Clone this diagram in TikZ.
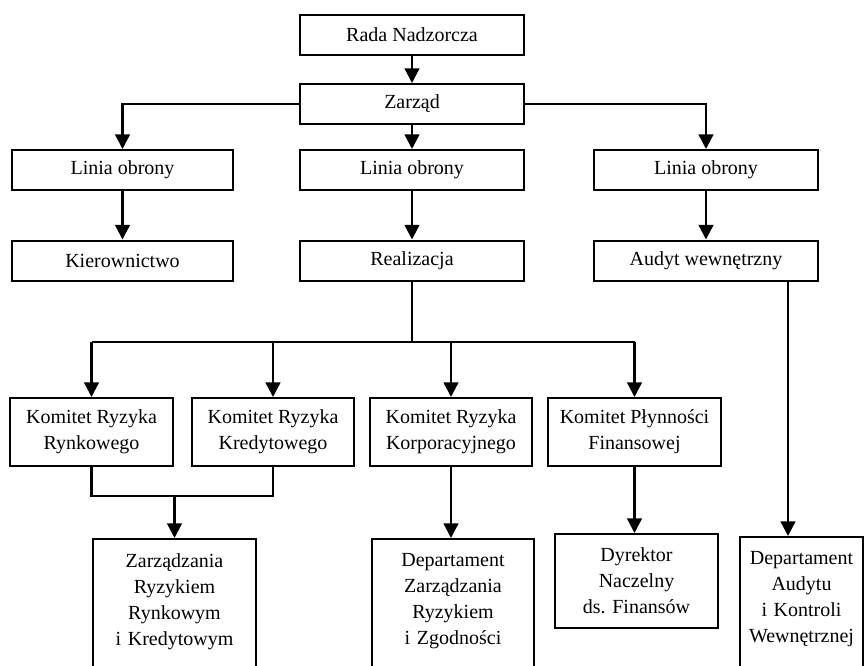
\documentclass[tikz,border=0pt]{standalone}
\usepackage{fontspec}
\setmainfont{Liberation Serif}
\usetikzlibrary{arrows.meta}
\begin{document}
\begin{tikzpicture}[x=0.75pt,y=-0.75pt,
  box/.style={draw, line width=1.5pt, inner sep=0pt, align=center, font=\fontsize{15}{19.5}\selectfont},
  topbox/.style={box, minimum width=168pt, minimum height=30pt},
  kombox/.style={box, minimum width=122pt, minimum height=51pt},
  openbox/.style={box, text width=#1, inner xsep=0pt, inner ysep=11pt, anchor=north},
  ln/.style={line width=1.8pt},
  arr/.style={line width=1.8pt, -{Triangle[length=11pt,width=11pt]}}]
\useasboundingbox (0,0) rectangle (864,665);
\clip (0,0) rectangle (864,665);

\node[topbox] (rada) at (412,35) {Rada Nadzorcza};
\node[topbox] (zarzad) at (412,104) {Zarząd};
\node[topbox, minimum width=166pt] (l1) at (122.5,170) {Linia obrony};
\node[topbox] (l2) at (412,170) {Linia obrony};
\node[topbox] (l3) at (706,170) {Linia obrony};
\node[topbox, minimum width=166pt] (k1) at (122.5,260.5) {Kierownictwo};
\node[topbox] (k2) at (412,260.5) {Realizacja};
\node[topbox] (k3) at (706,260.5) {Audyt wewnętrzny};

\node[kombox] (A) at (91.5,432) {Komitet Ryzyka\\Rynkowego};
\node[kombox] (B) at (273,432) {Komitet Ryzyka\\Kredytowego};
\node[kombox] (C) at (451,432) {Komitet Ryzyka\\Korporacyjnego};
\node[kombox, minimum width=130pt] (D) at (634.5,432) {Komitet Płynności\\Finansowej};

\node[openbox=122pt] (E) at (174.5,538) {Zarządzania\\Ryzykiem\\Rynkowym\\i Kredytowym\\\rule{0pt}{60pt}};
\node[openbox=121.5pt] (F) at (453,538) {Departament\\Zarządzania\\Ryzykiem\\i Zgodności\\\rule{0pt}{60pt}};
\node[box, minimum width=122pt, minimum height=70.5pt] (G) at (636.5,581) {Dyrektor\\Naczelny\\ds. Finansów};
\node[openbox=92pt] (H) at (801.5,536) {Departament\\Audytu\\i Kontroli\\Wewnętrznej\\\rule{0pt}{60pt}};

\draw[arr] (rada) -- (zarzad);
\draw[arr] (zarzad.west) -| (l1.north);
\draw[arr] (zarzad) -- (l2);
\draw[arr] (zarzad.east) -| (l3.north);
\draw[arr] (l1) -- (k1);
\draw[arr] (l2) -- (k2);
\draw[arr] (l3) -- (k3);

\coordinate (bus) at (412,342);
\draw[ln] (k2.south) -- (bus);
\draw[ln] (A.north |- bus) -- (D.north |- bus);
\draw[arr] (A.north |- bus) -- (A.north);
\draw[arr] (B.north |- bus) -- (B.north);
\draw[arr] (C.north |- bus) -- (C.north);
\draw[arr] (D.north |- bus) -- (D.north);

\coordinate (join) at (174.5,496);
\draw[ln] (A.south) -- (A.south |- join) -- (B.south |- join) -- (B.south);
\draw[arr] (join) -- (E.north);
\draw[arr] (C.south) -- (C.south |- F.north);
\draw[arr] (D.south) -- (D.south |- G.north);
\coordinate (ax) at (788,0);
\draw[arr] (k3.south -| ax) -- (H.north -| ax);
\end{tikzpicture}
\end{document}
